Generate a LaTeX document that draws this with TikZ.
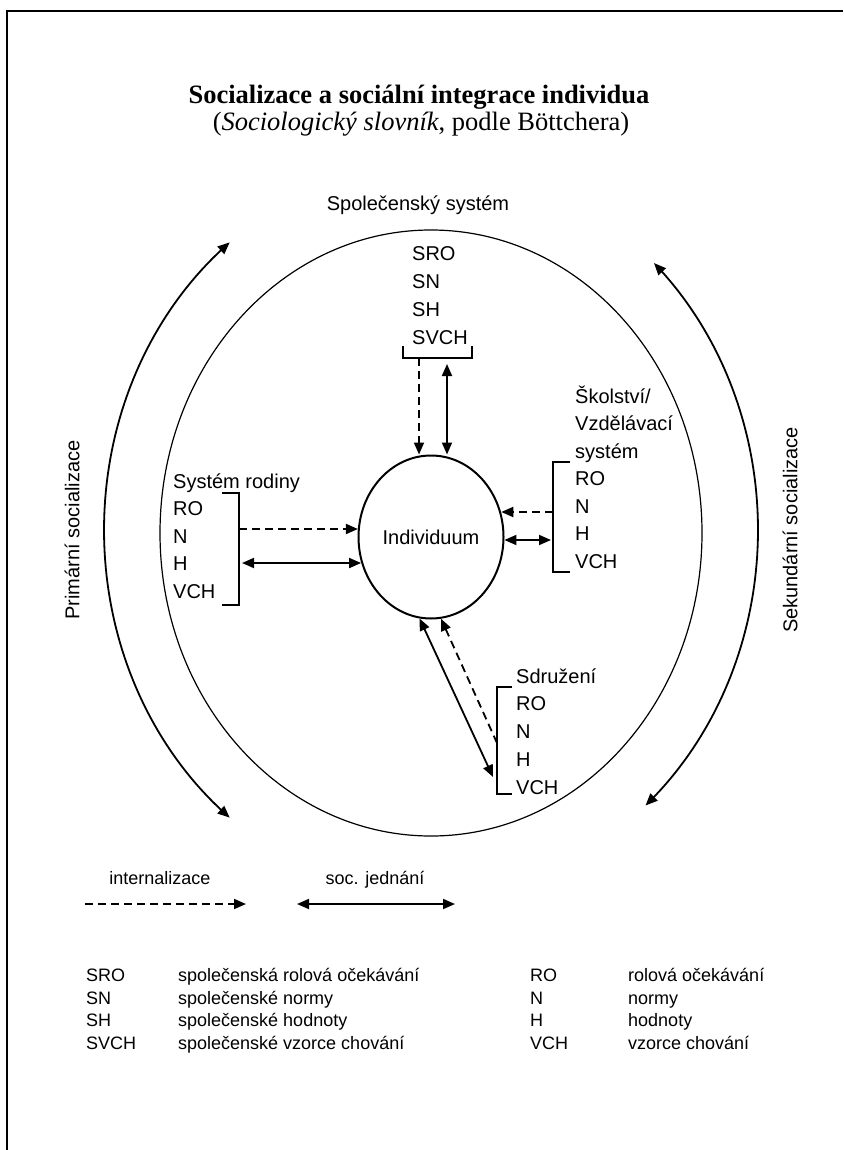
\documentclass[tikz,border=0pt]{standalone}
\usepackage{fontspec}
\setmainfont{Liberation Serif}
\setsansfont{Liberation Sans}
\usetikzlibrary{arrows.meta,shapes.geometric}
\begin{document}
\begin{tikzpicture}[x=1pt,y=-1pt,
  >={Triangle[length=12pt,width=10pt]},
  lbl/.style={font=\sffamily\fontsize{20}{24}\selectfont, anchor=base west, inner sep=0pt},
  leg/.style={font=\sffamily\fontsize{18}{22}\selectfont, anchor=base west, inner sep=0pt},
  solidarrow/.style={line width=1.8pt, <->},
  dasharrow/.style={line width=1.8pt, dash pattern=on 8pt off 5pt, ->},
  brk/.style={line width=1.3pt}
]
\useasboundingbox (0,0) rectangle (843,1150);
\draw[line width=2.5pt] (7,1150) -- (7,11) -- (843,11);

% titles
\node[font=\bfseries\fontsize{26.5}{30}\selectfont, anchor=base, inner sep=0pt] (title) at (419,104) {Socializace a sociální integrace individua};
\node[font=\fontsize{26.5}{30}\selectfont, anchor=base, inner sep=0pt] (subtitle) at (421,131) {(\textit{Sociologický slovník}, podle Böttchera)};

\node[font=\sffamily\fontsize{20}{24}\selectfont, anchor=base, inner sep=0pt] (spol) at (418,211) {Společenský systém};

% ellipses
\node[draw, ellipse, line width=1.2pt, minimum width=542pt, minimum height=606pt, inner sep=0pt] (sys) at (431,533) {};
\node[draw, ellipse, line width=2pt, minimum width=145pt, minimum height=163pt, inner sep=0pt, font=\sffamily\fontsize{20}{24}\selectfont] (ind) at (431,537) {Individuum};

% outer arcs
\draw[solidarrow] plot[domain=232:128, samples=80] ({431+327*cos(\x)},{530+365*sin(\x)});
\draw[solidarrow] plot[domain=-47:49, samples=80] ({431+327*cos(\x)},{530+365*sin(\x)});
\node[font=\sffamily\fontsize{20}{24}\selectfont, rotate=90] (prim) at (72,530) {Primární socializace};
\node[font=\sffamily\fontsize{20}{24}\selectfont, rotate=90] (sek) at (790,530) {Sekundární socializace};

% top block
\node[lbl] (sro) at (412,260) {SRO};
\node[lbl] (sn) at (412,288) {SN};
\node[lbl] (sh) at (412,316) {SH};
\node[lbl] (svch) at (412,344) {SVCH};
\draw[brk] (403,346) -- (403,358) -- (472,358) -- (472,346);
\coordinate (tb1) at (419,358);
\coordinate (tb2) at (447,364);
\draw[dasharrow] (tb1) -- (tb1 |- ind.north);
\draw[solidarrow] (tb2) -- (tb2 |- ind.north);

% left block
\node[lbl] (rod) at (173,488) {Systém rodiny};
\node[lbl] (lro) at (173,515) {RO};
\node[lbl] (ln) at (173,543) {N};
\node[lbl] (lh) at (173,570) {H};
\node[lbl] (lvch) at (173,598) {VCH};
\draw[brk] (222,493) -- (239,493) -- (239,605) -- (222,605);
\coordinate (lb1) at (239,529);
\coordinate (lb2) at (242,563);
\draw[dasharrow] (lb1) -- (lb1 -| ind.173.7);
\draw[solidarrow] (lb2) -- (lb2 -| ind.200.6);

% right block
\node[lbl] (sk1) at (575,403) {Školství/};
\node[lbl] (sk2) at (575,430) {Vzdělávací};
\node[lbl] (sk3) at (575,458) {systém};
\node[lbl] (rro) at (575,485) {RO};
\node[lbl] (rn) at (575,513) {N};
\node[lbl] (rh) at (575,540) {H};
\node[lbl] (rvch) at (575,568) {VCH};
\draw[brk] (570,462) -- (553,462) -- (553,572) -- (570,572);
\coordinate (rb1) at (553,512);
\coordinate (rb2) at (551,540);
\draw[dasharrow] (rb1) -- (rb1 -| ind.19.9);
\draw[solidarrow] (rb2) -- (rb2 -| ind.357.6);

% bottom block
\node[lbl] (sdr) at (516,683) {Sdružení};
\node[lbl] (bro) at (516,710) {RO};
\node[lbl] (bn) at (516,738) {N};
\node[lbl] (bh) at (516,766) {H};
\node[lbl] (bvch) at (516,794) {VCH};
\draw[brk] (512,687) -- (497,687) -- (497,794) -- (512,794);
\coordinate (bb1) at (497,743);
\coordinate (bb2) at (493,777);
\draw[dasharrow] (bb1) -- (ind.277.4);
\draw[solidarrow] (bb2) -- (ind.262.6);

% legend arrows
\node[font=\sffamily\fontsize{18}{22}\selectfont, anchor=base, inner sep=0pt] (lint) at (160,884) {internalizace};
\coordinate (d1) at (85,904);
\coordinate (d2) at (246,904);
\draw[dasharrow] (d1) -- (d2);
\node[font=\sffamily\fontsize{18}{22}\selectfont, anchor=base, inner sep=0pt] (lsoc) at (375,884) {soc. jednání};
\coordinate (s1) at (297,904);
\coordinate (s2) at (455,904);
\draw[solidarrow] (s1) -- (s2);

% legend table
\node[leg] (a1) at (86,981) {SRO};
\node[leg] (a2) at (86,1004) {SN};
\node[leg] (a3) at (86,1026) {SH};
\node[leg] (a4) at (86,1049) {SVCH};
\node[leg] (b1) at (178,981) {společenská rolová očekávání};
\node[leg] (b2) at (178,1004) {společenské normy};
\node[leg] (b3) at (178,1026) {společenské hodnoty};
\node[leg] (b4) at (178,1049) {společenské vzorce chování};
\node[leg] (c1) at (530,981) {RO};
\node[leg] (c2) at (530,1004) {N};
\node[leg] (c3) at (530,1026) {H};
\node[leg] (c4) at (530,1049) {VCH};
\node[leg] (e1) at (628,981) {rolová očekávání};
\node[leg] (e2) at (628,1004) {normy};
\node[leg] (e3) at (628,1026) {hodnoty};
\node[leg] (e4) at (628,1049) {vzorce chování};
\end{tikzpicture}
\end{document}
